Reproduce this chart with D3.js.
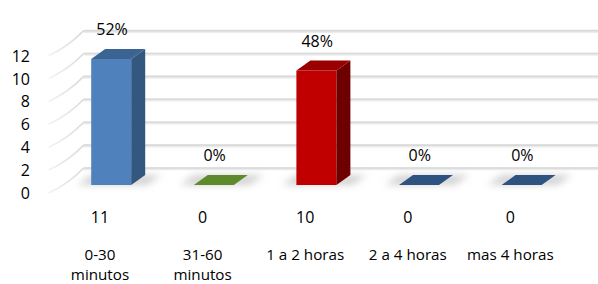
<!DOCTYPE html>
<html>
<head>
<meta charset="utf-8">
<script src="https://cdn.jsdelivr.net/npm/d3@7"></script>
<style>
  html, body { margin: 0; padding: 0; background: #fff; }
  svg { display: block; }
  text { font-family: 'Open Sans', 'Noto Sans', sans-serif; font-size: 16px; fill: #000; }
  text.cat { font-size: 15.2px; }
</style>
</head>
<body>
<script>
// ---- data ----
const categories = ["0-30\nminutos", "31-60\nminutos", "1 a 2 horas", "2 a 4 horas", "mas 4 horas"];
const values = [11, 0, 10, 0, 0];
const percentLabels = ["52%", "0%", "48%", "0%", "0%"];
const yTicks = [0, 2, 4, 6, 8, 10, 12];
const barColorKeys = ["blue", "green", "red", "navy", "navy"];

// ---- styles ----
const palette = {
  blue:  { front: "#4F81BD", side: "#34577F", top: "#3C6493" },
  green: { front: "#77933C", side: "#4F6A22", top: "#5E8A2C" },
  red:   { front: "#C00000", side: "#6E0000", top: "#9A0000" },
  navy:  { front: "#2F5380", side: "#22405F", top: "#2F5380" }
};

const W = 598, H = 284;
const DX = 35, DY = -25;          // depth projection of the full floor depth
const D0 = 0.32, D1 = 0.72;       // bar depth span (fraction of floor depth)
const BAR_W = 40;

const svg = d3.select("body").append("svg").attr("width", W).attr("height", H);
svg.append("rect").attr("width", W).attr("height", H).attr("fill", "#fff");

const x = d3.scaleBand().domain(categories).range([48.7, 561.7]).paddingInner(0).paddingOuter(0);
const y = d3.scaleLinear().domain([0, 12]).range([193, 193 - 12 * 11.45]);

const P = (px, v, d) => [px + d * DX, y(v) + d * DY];

const defs = svg.append("defs");
const blur = defs.append("filter").attr("id", "blur").attr("x", "-50%").attr("y", "-100%").attr("width", "200%").attr("height", "300%");
blur.append("feGaussianBlur").attr("stdDeviation", 3.5);
const sideGrad = defs.append("linearGradient").attr("id", "sideGrad")
  .attr("x1", "0").attr("y1", "0").attr("x2", "1").attr("y2", "0");
sideGrad.append("stop").attr("offset", "0%").attr("stop-color", "#f2f2f2");
sideGrad.append("stop").attr("offset", "100%").attr("stop-color", "#d9d9d9");

// ---- walls: gridlines ----
const x0 = x.range()[0], x1 = x.range()[1];
const grid = svg.append("g");
yTicks.forEach(v => {
  const a = P(x0, v, 1), b = P(x1, v, 1);
  grid.append("line").attr("x1", a[0]).attr("y1", a[1] + 0.8).attr("x2", b[0] + 2).attr("y2", b[1] + 0.8)
    .attr("stroke", "#ececec").attr("stroke-width", 3);
  grid.append("line").attr("x1", a[0]).attr("y1", a[1]).attr("x2", b[0] + 2).attr("y2", b[1])
    .attr("stroke", "#d9d9d9").attr("stroke-width", 1.6);
  const f = P(x0, v, 0);
  grid.append("path")
    .attr("d", `M${f[0]},${f[1]} Q${f[0] + DX * 0.55},${f[1] + DY * 0.35} ${a[0]},${a[1]}`)
    .attr("fill", "none").attr("stroke", "url(#sideGrad)").attr("stroke-width", 1.6);
});

// ---- floor shadows ----
const shadows = svg.append("g").attr("filter", "url(#blur)");
categories.forEach((c, i) => {
  const cx = x(c) + x.bandwidth() / 2;
  const pts = [P(cx - BAR_W / 2 - 14, 0, D0), P(cx + BAR_W / 2 + 16, 0, D0),
               P(cx + BAR_W / 2 + 16, 0, D1), P(cx - BAR_W / 2 - 14, 0, D1)];
  shadows.append("polygon").attr("points", pts.map(p => p.join(",")).join(" "))
    .attr("fill", "#a8a8a8").attr("opacity", 0.5);
});

// ---- bars ----
const bars = svg.append("g");
categories.forEach((c, i) => {
  const v = values[i];
  const col = palette[barColorKeys[i]];
  const cx = x(c) + x.bandwidth() / 2;
  const l = cx - BAR_W / 2, r = cx + BAR_W / 2;
  const poly = (pts, fill) => bars.append("polygon")
    .attr("points", pts.map(p => p.join(",")).join(" ")).attr("fill", fill);
  if (v > 0) {
    poly([P(l, 0, D0), P(r, 0, D0), P(r, v, D0), P(l, v, D0)], col.front);
    poly([P(r, 0, D0), P(r, v, D0), P(r, v, D1), P(r, 0, D1)], col.side);
  }
  poly([P(l, v, D0), P(r, v, D0), P(r, v, D1), P(l, v, D1)], col.top);
});

// ---- y axis labels ----
svg.append("g").selectAll("text").data(yTicks).join("text")
  .attr("x", 30).attr("y", d => y(d) + 6).attr("text-anchor", "end").text(d => d);

// ---- percent labels ----
svg.append("g").selectAll("text").data(categories).join("text")
  .attr("x", c => x(c) + x.bandwidth() / 2 + 12)
  .attr("y", (c, i) => P(0, values[i], D1)[1] - 14)
  .attr("text-anchor", "middle").text((c, i) => percentLabels[i]);

// ---- value row ----
svg.append("g").selectAll("text").data(categories).join("text")
  .attr("x", c => x(c) + x.bandwidth() / 2).attr("y", 223)
  .attr("text-anchor", "middle").text((c, i) => values[i]);

// ---- category labels (one text per line) ----
const catLines = categories.flatMap(c => c.split("\n").map((line, j) => ({ c, line, j })));
svg.append("g").selectAll("text").data(catLines).join("text")
  .attr("class", "cat")
  .attr("x", d => x(d.c) + x.bandwidth() / 2)
  .attr("y", d => 259.5 + d.j * 20.8)
  .attr("text-anchor", "middle").text(d => d.line);
</script>
</body>
</html>
